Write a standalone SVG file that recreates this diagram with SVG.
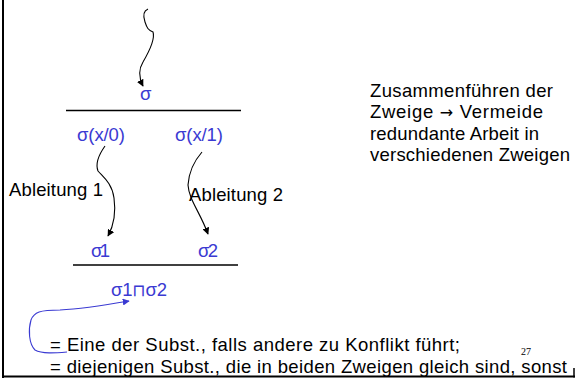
<svg xmlns="http://www.w3.org/2000/svg" width="577" height="379" viewBox="0 0 577 379">
<style>
.b{font-family:"Liberation Sans",Arial,sans-serif;font-size:18.5px;fill:#3a3ad2}
.k{font-family:"Liberation Sans",Arial,sans-serif;font-size:18.5px;fill:#000}
.c{fill:none;stroke:#000;stroke-width:1.1}
.cb{fill:none;stroke:#3a3ad2;stroke-width:1.1}
.rule{stroke:#000;stroke-width:1.3}
.sym{font-family:"DejaVu Sans",sans-serif;font-weight:normal}
</style>
<defs>
<marker id="ah" viewBox="0 0 10 10" refX="9" refY="5" markerWidth="7" markerHeight="7" markerUnits="userSpaceOnUse" orient="auto"><path d="M0,0 L10,5 L0,10 z" fill="#000"/></marker>
<marker id="ahb" viewBox="0 0 10 10" refX="9" refY="5" markerWidth="7" markerHeight="7" markerUnits="userSpaceOnUse" orient="auto"><path d="M0,0 L10,5 L0,10 z" fill="#3a3ad2"/></marker>
</defs>
<rect width="577" height="379" fill="#fff"/>
<g id="connectors">
<path class="c" d="M148,9 C143,11 143,16 145,22 C147,28 148,30 153,32 C155,38 150,50 143,62 C138,70 139,78 143,86" marker-end="url(#ah)"/>
<path class="c" d="M105,146 C100,153 95,163 98,171 C103,177 112,183 114,198 C116,212 114,225 108,236" marker-end="url(#ah)"/>
<path class="c" d="M202,152 C195,160 189,170 188,185 C189,200 200,212 208,234" marker-end="url(#ah)"/>
<path class="cb" d="M67,352 C55,353 42,354 35,350 C29,344 28,330 31,320 C34,312 40,310 60,310 C80,309 100,306 129,301" marker-end="url(#ahb)"/>
</g>
<g id="rules">
<line class="rule" x1="66" y1="110.5" x2="241" y2="110.5"/>
<line class="rule" x1="73" y1="265" x2="238" y2="265"/>
</g>
<g id="sigma"><text class="b" x="140" y="100" textLength="13">σ</text></g>
<g id="sigma-x0"><text class="b" x="77" y="141" textLength="48">σ(x/0)</text></g>
<g id="sigma-x1"><text class="b" x="175" y="141" textLength="48">σ(x/1)</text></g>
<g id="abl1"><text class="k" x="9" y="196" textLength="94">Ableitung 1</text></g>
<g id="abl2"><text class="k" x="189" y="201" textLength="94">Ableitung 2</text></g>
<g id="sigma1"><text class="b" x="91" y="257" textLength="19">σ1</text></g>
<g id="sigma2"><text class="b" x="198" y="257" textLength="20">σ2</text></g>
<g id="meet"><text class="b" x="111" y="296" textLength="56">σ1<tspan class="sym" font-size="17">⊓</tspan>σ2</text></g>
<g id="note">
<text class="k" x="370" y="97" textLength="183">Zusammenführen der</text>
<text class="k" x="370" y="118" textLength="173">Zweige <tspan class="sym" font-size="16">→</tspan> Vermeide</text>
<text class="k" x="370" y="140" textLength="169">redundante Arbeit in</text>
<text class="k" x="370" y="161" textLength="200">verschiedenen Zweigen</text>
</g>
<g id="bottom">
<text class="k" x="50" y="351" textLength="410">= Eine der Subst., falls andere zu Konflikt führt;</text>
<text class="k" x="50" y="373" textLength="517">= diejenigen Subst., die in beiden Zweigen gleich sind, sonst</text>
<text x="521" y="355" style="font-family:'Liberation Serif',serif;font-size:10px;fill:#000">27</text>
</g>
<g id="frame">
<rect x="0" y="377.5" width="577" height="1.5" fill="#fff"/>
<line x1="3" y1="0" x2="3" y2="378" stroke="#000" stroke-width="2"/>
<line x1="2" y1="376.5" x2="575" y2="376.5" stroke="#000" stroke-width="2"/>
<line x1="574" y1="368" x2="574" y2="377.5" stroke="#000" stroke-width="1.5"/>
</g>
</svg>
